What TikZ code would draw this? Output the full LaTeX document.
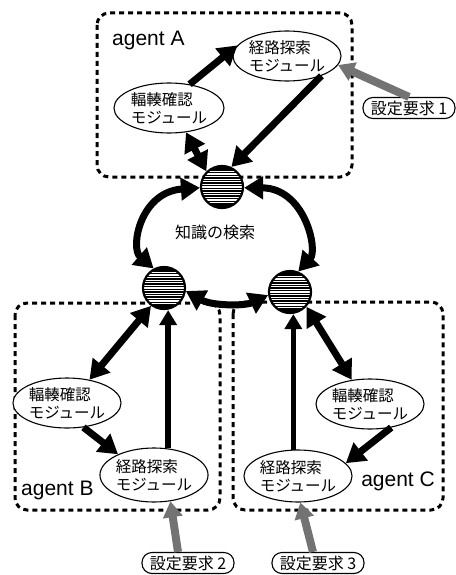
\documentclass[tikz,border=0pt]{standalone}
\usepackage{fontspec}
\setmainfont{Liberation Sans}
\newfontfamily\jp{Noto Sans CJK JP}
\usetikzlibrary{arrows.meta,shapes.geometric,calc}
\begin{document}
\begin{tikzpicture}[x=1pt,y=1pt,
 module/.style={ellipse,draw,line width=1.1pt,fill=white,inner sep=0pt,minimum width=104pt,minimum height=50pt,align=left,font=\jp\fontsize{15.5}{18}\selectfont},
 hub/.style={circle,draw,line width=2.2pt,fill=black,minimum size=42pt,inner sep=0pt,
   path picture={\foreach \i in {-6,...,6} \draw[white,line width=1.1pt] ([yshift=\i*2.6pt]path picture bounding box.west) -- ([yshift=\i*2.6pt]path picture bounding box.east);}},
 agentbox/.style={draw,line width=3pt,dash pattern=on 5pt off 4pt,rounded corners=12pt},
 req/.style={draw,line width=1.1pt,rounded corners=10pt,minimum height=21pt,minimum width=92pt,inner sep=2pt,font=\jp\fontsize{16}{18}\selectfont},
 lbl/.style={font=\fontsize{21}{23}\selectfont,inner sep=0pt},
 blk/.style={line width=7pt,-{Triangle[length=19pt,width=22pt]}},
 blk2/.style={line width=7pt,{Triangle[length=19pt,width=22pt]}-{Triangle[length=19pt,width=22pt]}},
 vert/.style={line width=5.5pt,-{Triangle[length=15pt,width=17pt]}},
 grayarr/.style={line width=8pt,draw=black!55,-{Triangle[length=16pt,width=19pt]}}
]
\useasboundingbox (0,0) rectangle (455,-575);
% agent boxes
\draw[agentbox] (97,-13) rectangle (352,-177);
\draw[agentbox] (15,-303) rectangle (220,-510);
\draw[agentbox] (233,-302) rectangle (443,-510);
% labels
\node[lbl,anchor=west] (la) at (112,-40) {agent A};
\node[lbl,anchor=west] (lb) at (21,-490) {agent B};
\node[lbl,anchor=east] (lc) at (435,-481) {agent C};
% modules
\node[module] (mA1) at (287,-56) {経路探索\\モジュール};
\node[module,minimum width=110pt] (mA2) at (169,-108) {輻輳確認\\モジュール};
\node[module,minimum width=96pt] (mB2) at (67,-403) {輻輳確認\\モジュール};
\node[module,minimum width=98pt,minimum height=54pt] (mB1) at (154,-475) {経路探索\\モジュール};
\node[module,minimum width=102pt] (mC2) at (370,-404) {輻輳確認\\モジュール};
\node[module,minimum width=104pt,minimum height=52pt] (mC1) at (298,-476) {経路探索\\モジュール};
% hubs
\node[hub] (hA) at (222,-187) {};
\node[hub] (hB) at (164,-288) {};
\node[hub] (hC) at (290,-292) {};
% centre text
\node[font=\jp\fontsize{16}{18}\selectfont] (kt) at (215,-232) {知識の検索};
% requests
\node[req] (r1) at (409,-108) {設定要求 1};
\node[req] (r2) at (188,-563) {設定要求 2};
\node[req] (r3) at (318,-563) {設定要求 3};
% agent A arrows
\draw[blk] (mA2.49) -- (mA1.168);
\draw[blk] (mA1.-30) -- (hA.65);
\draw[blk2] (hA.135) -- (mA2.-55);
% agent B arrows
\draw[blk2] (hB.234) -- (mB2.46);
\draw[blk] (mB2.-56) -- (mB1.150);
\draw[vert] (mB1.62) -- (mB1.62 |- hB.south);
% agent C arrows
\draw[blk2] (hC.-42) -- (mC2.127);
\draw[blk] (mC2.-48) -- (mC1.15);
\draw[vert] (mC1.100) -- (mC1.100 |- hC.south);
% hub to hub
\draw[blk2] (hA.182) .. controls (140,-192) and (130,-248) .. (hB.118);
\draw[blk2] (hA.-2) .. controls (305,-188) and (318,-250) .. (hC.68);
\draw[blk2] (hB.-8) .. controls (212,-306) and (245,-306) .. (hC.188);
% requests arrows
\draw[grayarr] (r1.north) -- (mA1.-10);
\draw[grayarr] ([xshift=-10pt]r2.north) -- (mB1.-58);
\draw[grayarr] ([xshift=-5pt]r3.north) -- (mC1.-85);
\end{tikzpicture}
\end{document}
